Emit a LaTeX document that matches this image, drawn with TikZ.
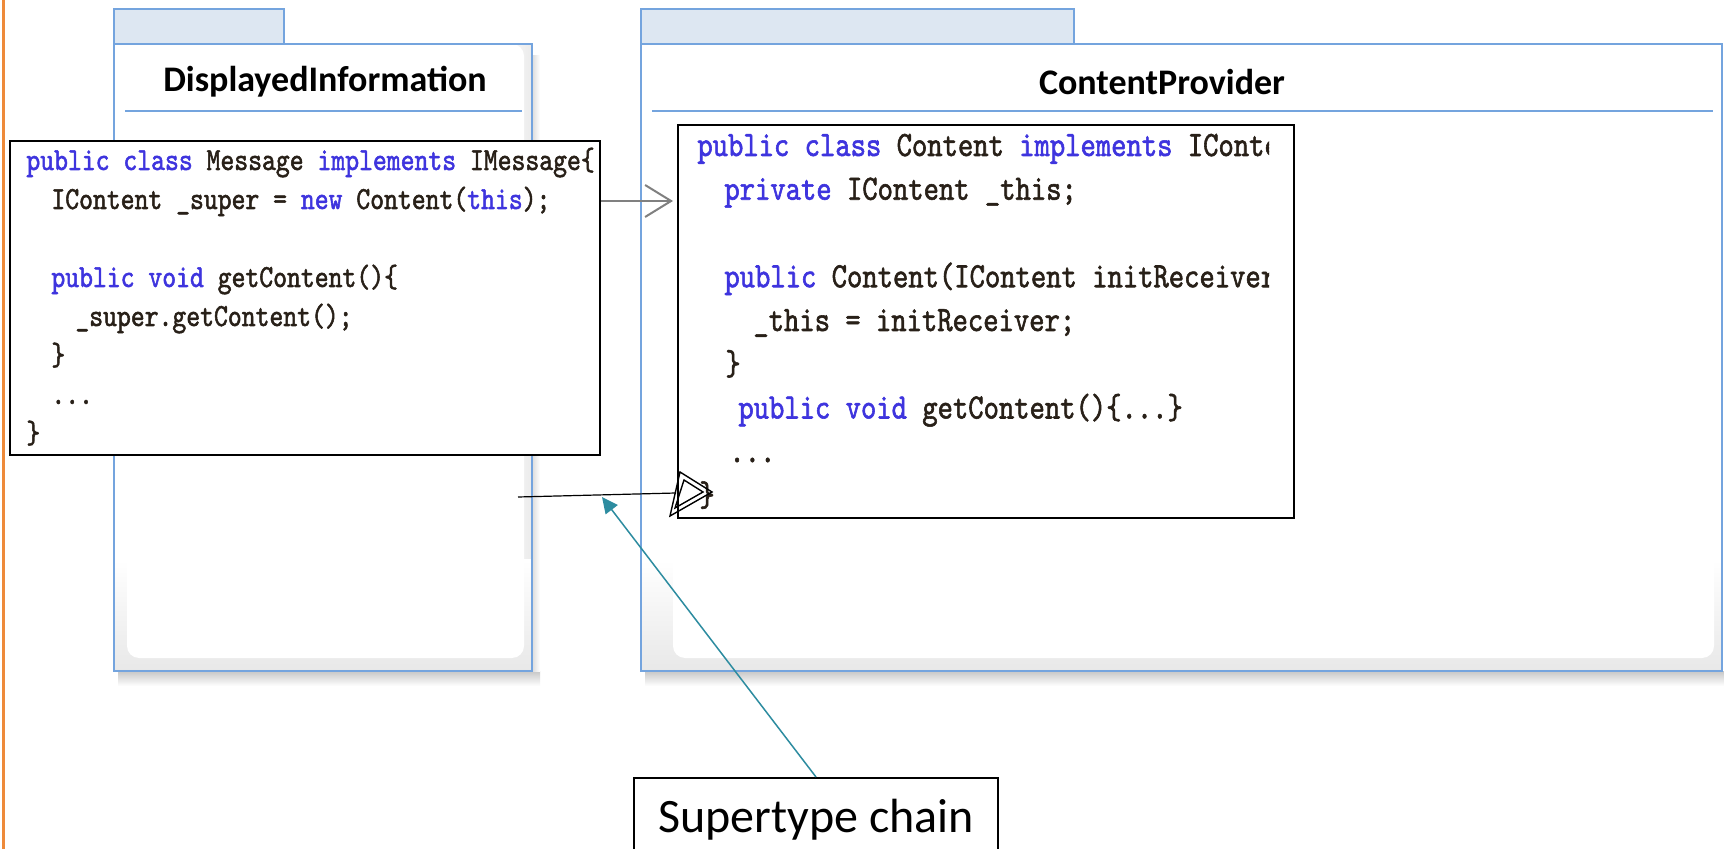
\documentclass[tikz,border=0pt]{standalone}
\usepackage{fontspec}
\setmainfont{Carlito}
\newfontfamily\codefont{lmmono10-regular.otf}[FakeStretch=0.82,FakeBold=1.6]
\usetikzlibrary{arrows.meta,calc}

\definecolor{pkgblue}{RGB}{116,164,222}
\definecolor{tabfill}{RGB}{221,231,242}
\definecolor{kwblue}{RGB}{62,52,222}
\definecolor{codeink}{RGB}{40,32,24}
\definecolor{edgeorange}{RGB}{238,138,58}
\definecolor{tealnote}{RGB}{45,140,160}
\definecolor{depgray}{RGB}{128,128,128}
\newcommand\kw[1]{\textcolor{kwblue}{#1}}

\begin{document}
\begin{tikzpicture}[x=0.5pt,y=-0.5pt,
  pkgline/.style={draw=pkgblue,line width=1.3pt},
  pkgtitle/.style={font=\bfseries\fontsize{18}{20}\selectfont,inner sep=0pt},
  codebox/.style={draw=black,fill=white,line width=1pt,inner sep=0pt,anchor=north west},
  codeL/.style={font=\codefont\fontsize{16.1}{19}\selectfont,text=codeink,inner sep=0pt,anchor=base west},
  codeR/.style={font=\codefont\fontsize{17.8}{21}\selectfont,text=codeink,inner sep=0pt,anchor=base west},
  dep/.style={draw=depgray,line width=1pt,shorten >=2pt,-{Straight Barb[length=13pt,width=16pt]}},
  genline/.style={draw=black,line width=0.6pt},
  gentri/.style={draw=black,line width=0.7pt,line join=miter},
  notebox/.style={draw=black,line width=0.9pt,fill=white,inner sep=0pt,font=\fontsize{24}{28}\selectfont},
  noteline/.style={draw=tealnote,line width=0.75pt,-{Triangle[length=8pt,width=7.5pt]}}
]
% canvas
\fill[white] (0,0) rectangle (1724,849);
\clip (0,0) rectangle (1724,849);

% orange rule on the left edge
\draw[edgeorange,line width=1.5pt] (3,0) -- (3,849);

% package DisplayedInformation
\shade[top color=black!22,bottom color=white] (118,671) rectangle (540,686);
\shade[left color=black!14,right color=white] (532,56) rectangle (540,671);
\shade[left color=white,right color=black!8] (500,44) rectangle (532,640);
\shade[top color=white,bottom color=black!9] (114,560) rectangle (532,671);
\fill[white,rounded corners=6pt] (127,44) rectangle (524,658);
\draw[pkgline] (114,44) rectangle (532,671);
\draw[pkgline,fill=tabfill] (114,9) rectangle (284,44);
\draw[pkgline] (125,111) -- (522,111);
\node[pkgtitle] (dtitle) at (325,82) {DisplayedInformation};

% package ContentProvider
\shade[top color=black!22,bottom color=white] (645,671) rectangle (1724,686);
\shade[top color=white,bottom color=black!9] (641,560) rectangle (1722,671);
\fill[white,rounded corners=6pt] (673,44) rectangle (1714,658);
\draw[pkgline] (641,44) rectangle (1722,671);
\draw[pkgline,fill=tabfill] (641,9) rectangle (1074,44);
\draw[pkgline] (652,111) -- (1713,111);
\node[pkgtitle] (ptitle) at (1162,82) {ContentProvider};

% code of class Message
\node[codebox,minimum width=295pt,minimum height=157pt] (msgcode) at (9,140) {};
\node[codeL] (m1) at (26,170) {\kw{public} \kw{class} Message \kw{implements} IMessage\{};
\node[codeL] (m2) at (51,209) {IContent \_super = \kw{new} Content(\kw{this});};
\node[codeL] (m4) at (51,287) {\kw{public} \kw{void} getContent()\{};
\node[codeL] (m5) at (75,326) {\_super.getContent();};
\node[codeL] (m6) at (51,365) {\}};
\node[codeL] (m7) at (51,404) {...};
\node[codeL] (m8) at (26,443) {\}};

% code of class Content
\node[codebox,minimum width=308pt,minimum height=196.5pt] (contcode) at (677,124) {};
\begin{scope}
  \clip (contcode.north west) rectangle ($(contcode.south east)+(-26,0)$);
  \node[codeR] (c1) at (697,156) {\kw{public} \kw{class} Content \kw{implements} IContent\{};
  \node[codeR] (c2) at (724,199.75) {\kw{private} IContent \_this;};
  \node[codeR] (c4) at (724,287.25) {\kw{public} Content(IContent initReceiver)\{};
  \node[codeR] (c5) at (753,331) {\_this = initReceiver;};
  \node[codeR] (c6) at (725,374.75) {\}};
  \node[codeR] (c7) at (738,418.5) {\kw{public} \kw{void} getContent()\{...\}};
  \node[codeR] (c8) at (729,462.25) {...};
  \node[codeR] (c9) at (699,506) {\}};
\end{scope}

% dependency Message -> Content
\coordinate (depy) at (0,201);
\draw[dep] (msgcode.east |- depy) -- (contcode.west |- depy);

% generalization with open triangle head
\coordinate (gs) at (518,497);
\coordinate (gb) at (676,493);
\draw[genline] (gs) -- (gb);
\draw[gentri] (680,472) -- (712,492) -- (670,516) -- cycle;
\draw[gentri] (684,480) -- (703,492) -- (675,508) -- cycle;

% callout
\node[notebox,minimum width=182pt,minimum height=41.5pt,anchor=north] (note) at (816,777) {Supertype chain};
\coordinate (ctip) at (602,497);
\draw[noteline] (note.north) -- (ctip);
\end{tikzpicture}
\end{document}
